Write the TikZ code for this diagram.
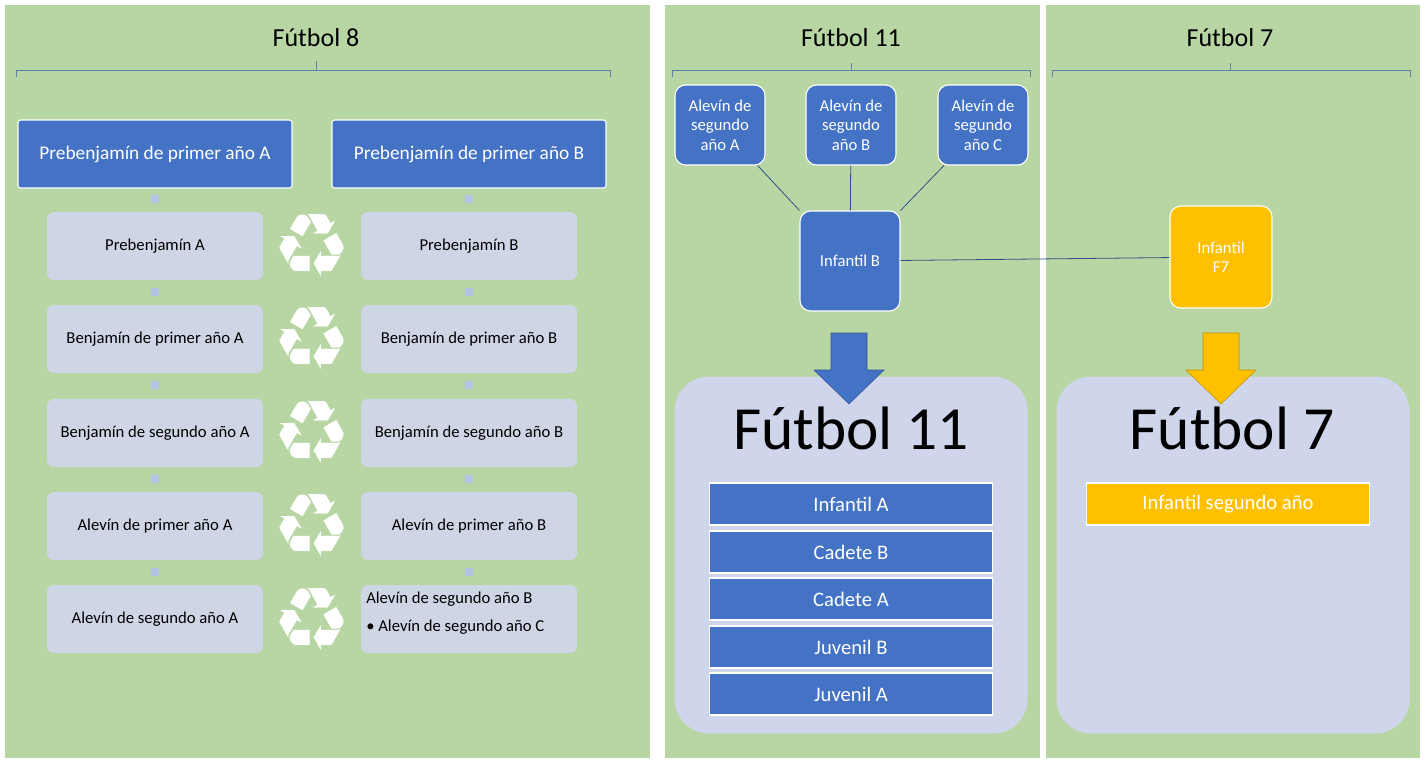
\documentclass[tikz,border=0pt]{standalone}
\usepackage{fontspec}
\setmainfont{Carlito}
\newfontfamily\symfont{DejaVu Sans}
\usetikzlibrary{arrows.meta,positioning,shapes.arrows,calc}
\definecolor{panelgreen}{HTML}{B8D6A4}
\definecolor{darkblue}{HTML}{4472C4}
\definecolor{paleblue}{HTML}{CED5E4}
\definecolor{lilac}{HTML}{CFD5EA}
\definecolor{gold}{HTML}{FFC000}
\definecolor{bracecol}{HTML}{5B82A8}

\begin{document}
\begin{tikzpicture}[
    x=0.75pt, y=-0.75pt,
    header/.style={
        draw=white, thick,
        fill=darkblue,
        text=white,
        rounded corners=2pt,
        minimum width=274*0.75pt, minimum height=68*0.75pt,
        font=\fontsize{14.5}{17}\selectfont
    },
    stage/.style={
        fill=paleblue,
        rounded corners=5pt,
        minimum width=216*0.75pt, minimum height=68*0.75pt,
        font=\fontsize{12.5}{15}\selectfont
    },
    team/.style={
        draw=white, thick,
        fill=darkblue,
        text=white,
        rounded corners=8pt,
        align=center,
        font=\fontsize{12.5}{14.5}\selectfont
    },
    bar/.style={
        draw=white, thick,
        fill=darkblue,
        text=white,
        minimum width=283*0.75pt, minimum height=42*0.75pt,
        font=\fontsize{15.5}{18}\selectfont
    },
    bigbox/.style={
        fill=lilac,
        rounded corners=26pt,
        minimum width=353*0.75pt, minimum height=357*0.75pt
    },
    brace/.style={draw=bracecol, semithick},
    link/.style={draw=darkblue!70!black, semithick},
    small/.style={fill=lilac!80!darkblue, draw=none},
    recycle/.style={text=white, font=\symfont\fontsize{66}{66}\selectfont},
    title/.style={font=\fontsize{19.5}{22}\selectfont},
    bigarrow/.style={draw=#1!75!black, fill=#1, thin}
]

% panels
\fill[white] (0,0) rectangle (1425,765);
\fill[panelgreen] (5,5) rectangle (650,758);
\fill[panelgreen] (665,5) rectangle (1040,758);
\fill[panelgreen] (1046,5) rectangle (1420,758);

% titles and braces
\node[title] (t8) at (316,38) {Fútbol 8};
\node[title] (t11) at (851,38) {Fútbol 11};
\node[title] (t7) at (1230,38) {Fútbol 7};
\draw[brace] (16,77) -- (16,70) -- (610,70) -- (610,77) (316,70) -- (316,61);
\draw[brace] (672,77) -- (672,70) -- (1030,70) -- (1030,77) (851,70) -- (851,63);
\draw[brace] (1052,77) -- (1052,70) -- (1410,70) -- (1410,77) (1230,70) -- (1230,63);

% Futbol 8
\node[header] (ha) at (155,154) {Prebenjamín de primer año A};
\node[header] (hb) at (469,154) {Prebenjamín de primer año B};

\node[stage] (a1) at (155,246) {Prebenjamín A};
\node[stage] (a2) at (155,339) {Benjamín de primer año A};
\node[stage] (a3) at (155,433) {Benjamín de segundo año A};
\node[stage] (a4) at (155,526) {Alevín de primer año A};
\node[stage] (a5) at (155,619) {Alevín de segundo año A};

\node[stage] (b1) at (469,246) {Prebenjamín B};
\node[stage] (b2) at (469,339) {Benjamín de primer año B};
\node[stage] (b3) at (469,433) {Benjamín de segundo año B};
\node[stage] (b4) at (469,526) {Alevín de primer año B};
\node[stage] (b5) at (469,619) {};
\node[anchor=west, align=left, inner sep=0pt, font=\fontsize{12.5}{15}\selectfont]
    (b5txt) at (366,613) {Alevín de segundo año B\\[6pt]\textbullet\ Alevín de segundo año C};

\foreach \col in {a,b} {
    \fill[small] ($(h\col.south)!0.5!(\col1.north)$) ++(-4,-5) rectangle ++(8,8);
    \foreach \i [count=\j from 2] in {1,...,4}
        \fill[small] ($(\col\i.south)!0.5!(\col\j.north)$) ++(-4,-5) rectangle ++(8,8);
}

\foreach \i/\y in {1/246,2/339,3/433,4/526,5/620}
    \node[recycle] (r\i) at (312,\y) {♻};

% Futbol 11
\node[team, minimum width=90*0.75pt, minimum height=80*0.75pt] (sA) at (720,125) {Alevín de\\segundo\\año A};
\node[team, minimum width=90*0.75pt, minimum height=80*0.75pt] (sB) at (851,125) {Alevín de\\segundo\\año B};
\node[team, minimum width=90*0.75pt, minimum height=80*0.75pt] (sC) at (983,125) {Alevín de\\segundo\\año C};
\node[team, minimum width=100*0.75pt, minimum height=100*0.75pt] (infB) at (850,261) {Infantil B};
\node[team, fill=gold, minimum width=102*0.75pt, minimum height=102*0.75pt] (infF7) at (1221,257) {Infantil\\F7};

\draw[link] (sA) -- (infB.north west);
\draw[link] (sB) -- (infB);
\draw[link] (sC) -- (infB.north east);
\draw[link] (infB) -- (infF7);

\node[bigbox] (box11) at (851,555) {};
\node[bigbox] (box7) at (1233,555) {};

\draw[bigarrow=darkblue] (831,333) -- (867,333) -- (867,370) -- (884,370) -- (849,404)
    -- (814,370) -- (831,370) -- cycle;
\draw[bigarrow=gold] (1203,333) -- (1239,333) -- (1239,370) -- (1256,370) -- (1221,404)
    -- (1186,370) -- (1203,370) -- cycle;

\node[font=\fontsize{46}{50}\selectfont] (big11) at (851,428) {Fútbol 11};
\node[font=\fontsize{46}{50}\selectfont] (big7) at (1232,428) {Fútbol 7};

\node[bar] (f1) at (851,504) {Infantil A};
\node[bar] (f2) at (851,552) {Cadete B};
\node[bar] (f3) at (851,599) {Cadete A};
\node[bar] (f4) at (851,647) {Juvenil B};
\node[bar] (f5) at (851,694) {Juvenil A};

\node[bar, fill=gold] (g1) at (1228,504) {Infantil segundo año};

\end{tikzpicture}
\end{document}
